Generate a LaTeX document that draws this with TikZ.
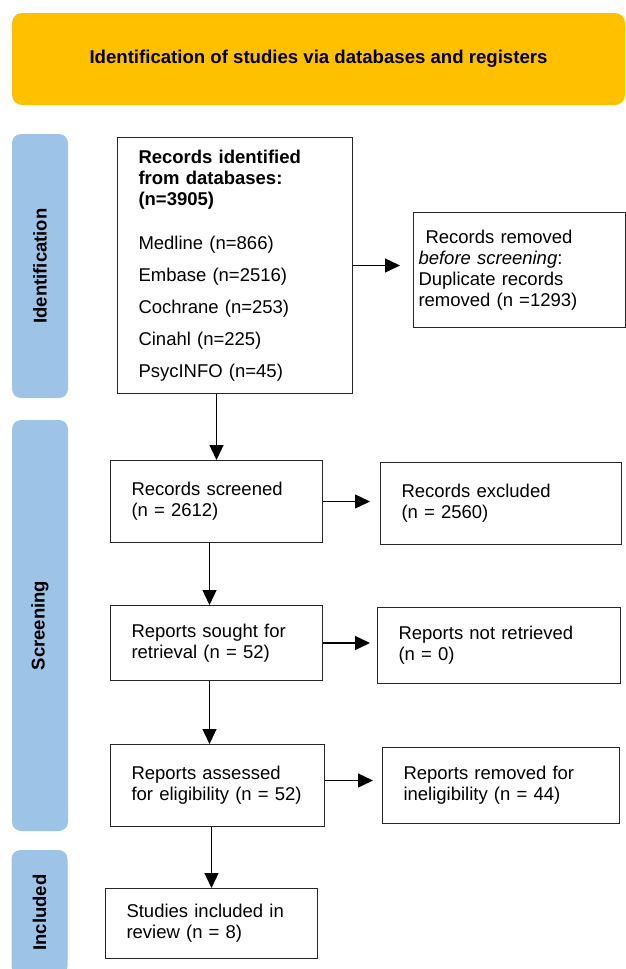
\documentclass[tikz,border=0pt]{standalone}
\usepackage{fontspec}
\setmainfont{Liberation Sans}
\usepackage{xcolor}
\usetikzlibrary{arrows.meta,positioning}
\definecolor{prismaorange}{HTML}{FFC000}
\definecolor{prismablue}{HTML}{9DC3E6}
\tikzset{
  box/.style={ % plain flow box, text on the left
    draw=black!85, line width=1pt, rectangle,
    inner xsep=21pt, inner ysep=0pt, align=left, anchor=north west,
    font=\fontsize{18.5}{21}\selectfont, text=black
  },
  phase/.style={ % blue stage bar at the left edge
    rectangle, rounded corners=9pt, fill=prismablue,
    rotate=90, minimum height=56pt, inner sep=0pt,
    font=\bfseries\fontsize{18.5}{21}\selectfont
  },
  banner/.style={ % orange heading
    rectangle, rounded corners=10pt, fill=prismaorange,
    minimum width=613pt, minimum height=92pt,
    font=\bfseries\fontsize{18.6}{22}\selectfont
  },
  flow/.style={
    -{Triangle[length=15pt,width=14pt]}, line width=1.3pt, black
  }
}

\begin{document}
\begin{tikzpicture}[x=1pt, y=-1pt]
  \useasboundingbox (0,0) rectangle (626,969);
  \clip (0,0) rectangle (626,969);

  \node[banner] (title) at (318.5,59) {Identification of studies via databases and registers};

  \node[phase, minimum width=264pt] (id_bar) at (40,266) {Identification};
  \node[phase, minimum width=411pt] (screen_bar) at (40,625.5) {Screening};
  \node[phase, minimum width=125pt] (incl_bar) at (39.5,912.5) {Included};

  \node[box, text width=193pt, minimum height=256pt] (ident) at (117,137)
    {\bfseries Records identified\\ from databases:\\ (n=3905)\\[23pt]
     \mdseries Medline (n=866)\\[11pt] Embase (n=2516)\\[11pt]
     Cochrane (n=253)\\[11pt] Cinahl (n=225)\\[11pt] PsycINFO (n=45)};
  \node[box, inner xsep=5pt, text width=202pt, minimum height=115pt] (dup) at (413,212)
    {\hspace*{7pt}Records removed\\ \textit{before screening}:\\ Duplicate records\\ removed (n =1293)};

  \node[box, text width=170pt, minimum height=82pt] (screen) at (110,460)
    {Records screened\\ (n = 2612)};
  \node[box, text width=199pt, minimum height=82pt] (excl) at (380,462)
    {Records excluded\\ (n = 2560)};

  \node[box, text width=170pt, minimum height=75pt] (sought) at (110,605)
    {Reports sought for\\ retrieval (n = 52)};
  \node[box, text width=201pt, minimum height=76pt] (notret) at (377,607)
    {Reports not retrieved\\ (n = 0)};

  \node[box, text width=172pt, minimum height=82pt] (assess) at (110,744)
    {Reports assessed\\ for eligibility (n = 52)};
  \node[box, text width=195pt, minimum height=76pt] (inelig) at (382,747)
    {Reports removed for\\ ineligibility (n = 44)};

  \node[box, text width=170pt, minimum height=70pt] (incl) at (105,888)
    {Studies included in\\ review (n = 8)};

  % down the main column
  \draw[flow] (ident.south -| screen.north) -- (screen.north);
  \draw[flow] ([xshift=-7pt]screen.south) -- ([xshift=-7pt]sought.north);
  \draw[flow] ([xshift=-7pt]sought.south) -- ([xshift=-8pt]assess.north);
  \draw[flow] (assess.south -| incl.north) -- (incl.north);

  % out to the right
  \draw[flow, shorten >=13pt] (ident.east) -- (ident.east -| dup.west);
  \draw[flow, shorten >=10pt] (screen.east) -- (screen.east -| excl.west);
  \draw[flow, shorten >=7pt] (sought.east) -- (sought.east -| notret.west);
  \draw[flow, shorten >=9pt] ([yshift=5pt]assess.east) -- ([yshift=5pt]assess.east -| inelig.west);
\end{tikzpicture}
\end{document}
